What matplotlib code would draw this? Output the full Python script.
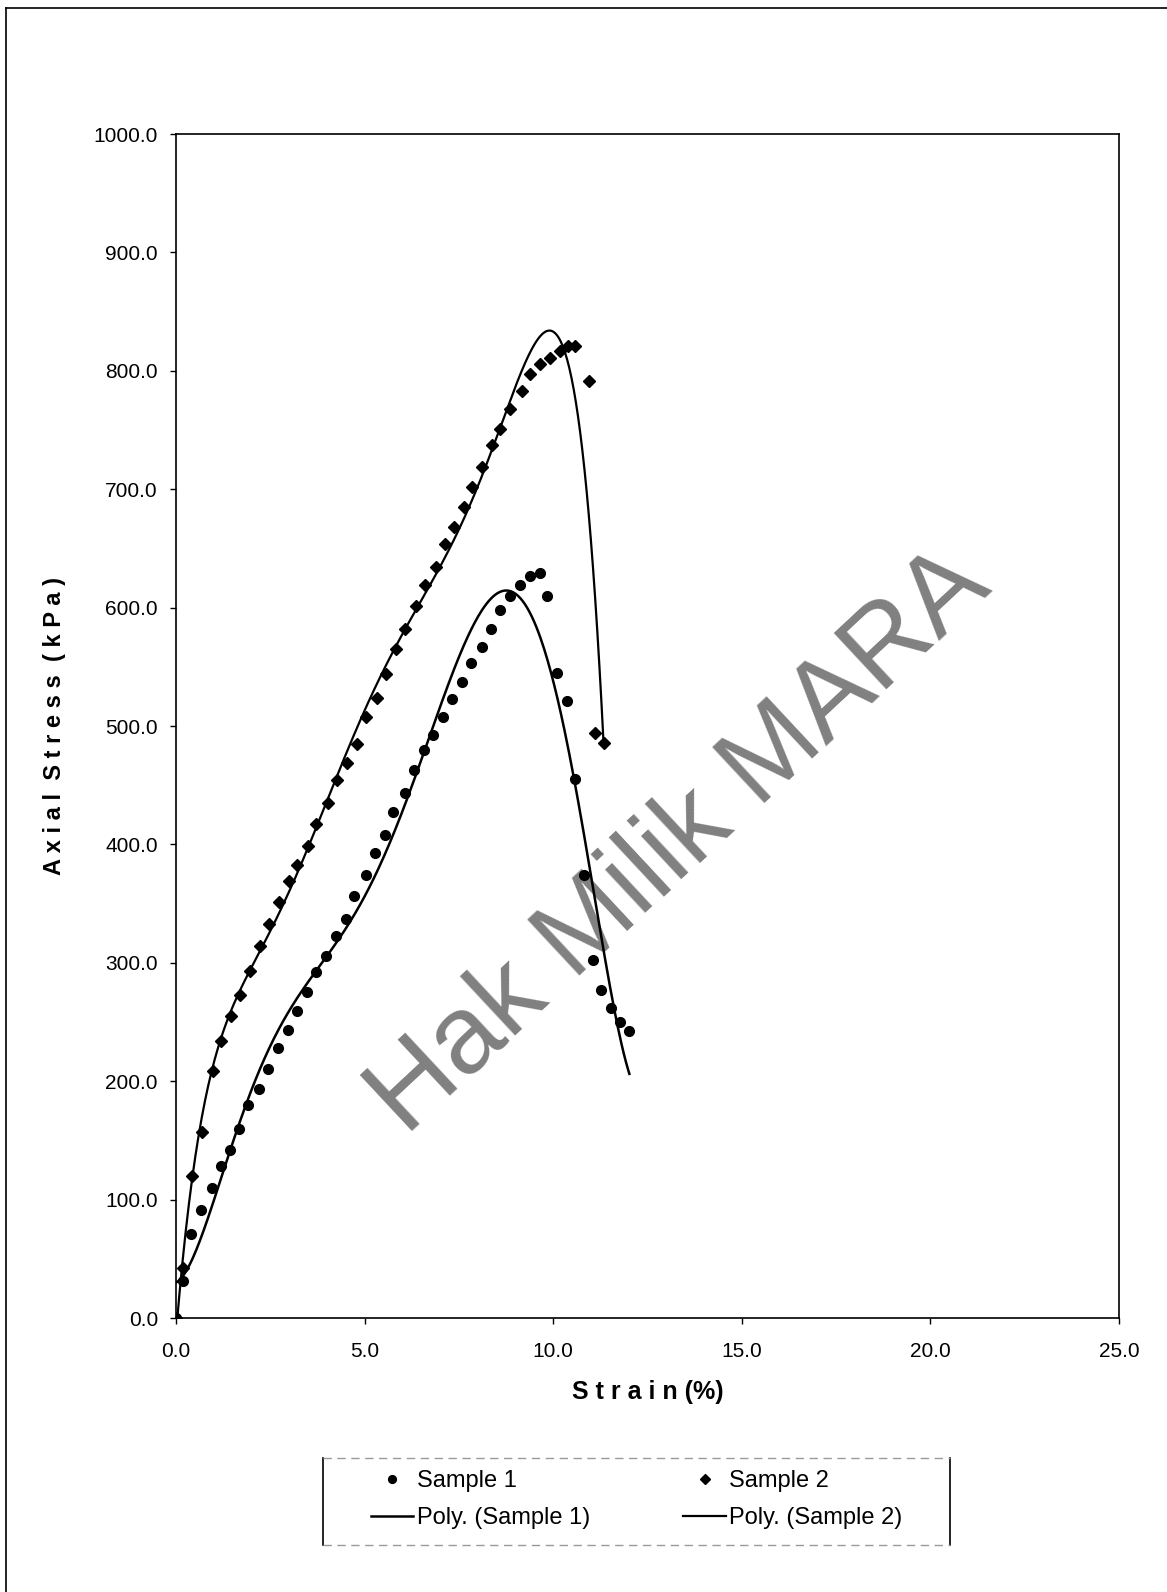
import matplotlib

matplotlib.use("Agg")
import matplotlib.pyplot as plt
import numpy as np
from matplotlib.lines import Line2D
from matplotlib.ticker import FormatStrFormatter, MultipleLocator

plt.rcParams["font.family"] = ["Liberation Sans", "DejaVu Sans"]

# Sample 1: strain (%) vs axial stress (kPa)
strain_1 = [0.00, 0.19, 0.40, 0.67, 0.96, 1.18, 1.43, 1.67, 1.90, 2.20, 2.44, 2.71,
            2.97, 3.21, 3.47, 3.71, 3.97, 4.24, 4.50, 4.73, 5.03, 5.27, 5.54, 5.76,
            6.06, 6.32, 6.57, 6.81, 7.08, 7.32, 7.58, 7.83, 8.10, 8.36, 8.60, 8.85,
            9.13, 9.38, 9.65, 9.84, 10.11, 10.36, 10.58, 10.81, 11.05, 11.27, 11.53,
            11.78, 12.02]
stress_1 = [0, 31, 71, 91, 110, 128, 142, 160, 180, 193, 210, 228,
            243, 259, 275, 292, 306, 323, 337, 356, 374, 393, 408, 427,
            443, 463, 480, 492, 508, 523, 537, 553, 567, 582, 598, 610,
            619, 627, 629, 610, 545, 521, 455, 374, 302, 277, 262,
            250, 242]

# Sample 2
strain_2 = [0.00, 0.18, 0.43, 0.68, 0.97, 1.19, 1.45, 1.70, 1.95, 2.22, 2.46, 2.72,
            2.99, 3.22, 3.49, 3.72, 4.02, 4.27, 4.53, 4.80, 5.05, 5.32, 5.58, 5.82,
            6.08, 6.35, 6.61, 6.88, 7.14, 7.36, 7.63, 7.85, 8.11, 8.38, 8.60, 8.86,
            9.17, 9.39, 9.66, 9.92, 10.17, 10.38, 10.58, 10.94, 11.12, 11.34]
stress_2 = [0, 42, 120, 157, 209, 234, 255, 273, 293, 314, 333, 351,
            369, 383, 399, 417, 435, 454, 469, 485, 508, 524, 544, 565,
            582, 601, 619, 634, 654, 668, 685, 702, 719, 737, 751, 768,
            783, 797, 806, 811, 817, 821, 821, 791, 494, 486]

POLY_ORDER = 6


def trend(x, y, order=POLY_ORDER):
    """Polynomial trendline over the range of the data."""
    coef = np.polyfit(x, y, order)
    xs = np.linspace(min(x), max(x), 400)
    return xs, np.polyval(coef, xs)


W, H = 1167, 1592
fig = plt.figure(figsize=(W / 100, H / 100), dpi=100, facecolor="white")
ax = fig.add_axes([176 / W, 1 - 1318 / H, (1119 - 176) / W, (1318 - 134) / H])

xs1, ys1 = trend(strain_1, stress_1)
xs2, ys2 = trend(strain_2, stress_2)

ax.plot(strain_1, stress_1, "o", color="black", ms=7, zorder=3, label="Sample 1")
ax.plot(xs1, ys1, "-", color="black", lw=1.8, zorder=2, label="Poly. (Sample 1)")
ax.plot(strain_2, stress_2, "D", color="black", ms=6, zorder=3, label="Sample 2")
ax.plot(xs2, ys2, "-", color="black", lw=1.6, zorder=2, label="Poly. (Sample 2)")

ax.set_xlim(0, 25)
ax.set_ylim(0, 1000)
ax.xaxis.set_major_locator(MultipleLocator(5))
ax.yaxis.set_major_locator(MultipleLocator(100))
ax.xaxis.set_major_formatter(FormatStrFormatter("%.1f"))
ax.yaxis.set_major_formatter(FormatStrFormatter("%.1f"))
ax.tick_params(axis="both", direction="out", length=4, width=1, labelsize=15)
ax.tick_params(axis="y", pad=9)
ax.tick_params(axis="x", pad=13)
for s in ax.spines.values():
    s.set_linewidth(1.2)

fig.text(648 / W, 1 - 1392 / H, "S t r a i n (%)", ha="center", va="center",
         fontsize=18, fontweight="bold")
fig.text(55 / W, 1 - 726 / H, "A x i a l  S t r e s s  ( k P a )", ha="center",
         va="center", rotation=90, fontsize=17, fontweight="bold")

# watermark, kept under the data
ax.text(680 / W, 1 - 842 / H, "Hak Milik MARA", transform=fig.transFigure,
        fontsize=80, color="#808080", rotation=43, rotation_mode="anchor",
        ha="center", va="center", zorder=1, clip_on=False)

ax.legend(loc="upper left", bbox_to_anchor=(359 / W, 1 - 1458 / H),
          bbox_transform=fig.transFigure, ncol=2, frameon=False, fontsize=17,
          borderpad=0, handlelength=1.8, handletextpad=0.15, columnspacing=3.95,
          labelspacing=0.65, markerscale=0.8)

# legend frame and page border
lx0, lx1, ly0, ly1 = 323 / W, 950 / W, 1 - 1545 / H, 1 - 1458 / H
fig.add_artist(Line2D([lx0, lx0], [ly0, ly1], color="black", lw=1.2))
fig.add_artist(Line2D([lx1, lx1], [ly0, ly1], color="black", lw=1.2))
fig.add_artist(Line2D([lx0, lx1], [ly1, ly1], color="#9a9a9a", lw=1.0, ls=(0, (6, 4))))
fig.add_artist(Line2D([lx0, lx1], [ly0, ly0], color="#9a9a9a", lw=1.0, ls=(0, (6, 4))))
fig.add_artist(Line2D([6 / W, 6 / W], [0, 1 - 8 / H], color="black", lw=1.2))
fig.add_artist(Line2D([6 / W, 1], [1 - 8 / H, 1 - 8 / H], color="black", lw=1.2))

fig.savefig("out.png", dpi=100)
